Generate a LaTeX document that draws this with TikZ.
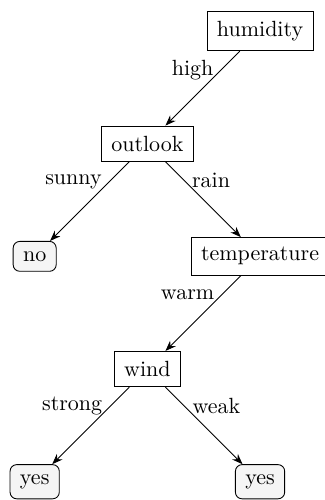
\documentclass[tikz,border=0pt]{standalone}
\usepackage{tikz}
\usetikzlibrary{arrows.meta,positioning}

\begin{document}
\begin{tikzpicture}[
  node distance=1.8cm and 1.8cm, on grid,
  >=Stealth,
  attr/.style={rectangle, draw, inner sep=4.5pt},
  leaf/.style={rectangle, draw, rounded corners=3pt, fill=gray!8, inner sep=4.5pt},
  arr/.style={->},
  lbl/.style={near start},
]
\useasboundingbox (-4.154,-7.492) rectangle (1.022,0.495);

% === Root ===
\node[attr] (humidity) {humidity};

% === Level 1 ===
\node[attr, below left=of humidity] (outlook) {outlook};

% === Level 2 ===
\node[leaf, below left=of outlook] (no) {no};
\node[attr, below right=of outlook] (temp) {temperature};

% === Level 3 ===
\node[attr, below left=of temp] (wind) {wind};

% === Level 4: Leaves ===
\node[leaf, below left=of wind] (yesA) {yes};
\node[leaf, below right=of wind] (yesB) {yes};

% === Edges ===
\draw[arr] (humidity) -- node[lbl, left] {high} (outlook);
\draw[arr] (outlook) -- node[lbl, left] {sunny} (no);
\draw[arr] (outlook) -- node[lbl, right] {rain} (temp);
\draw[arr] (temp) -- node[lbl, left] {warm} (wind);
\draw[arr] (wind) -- node[lbl, left] {strong} (yesA);
\draw[arr] (wind) -- node[lbl, right] {weak} (yesB);

\end{tikzpicture}
\end{document}
